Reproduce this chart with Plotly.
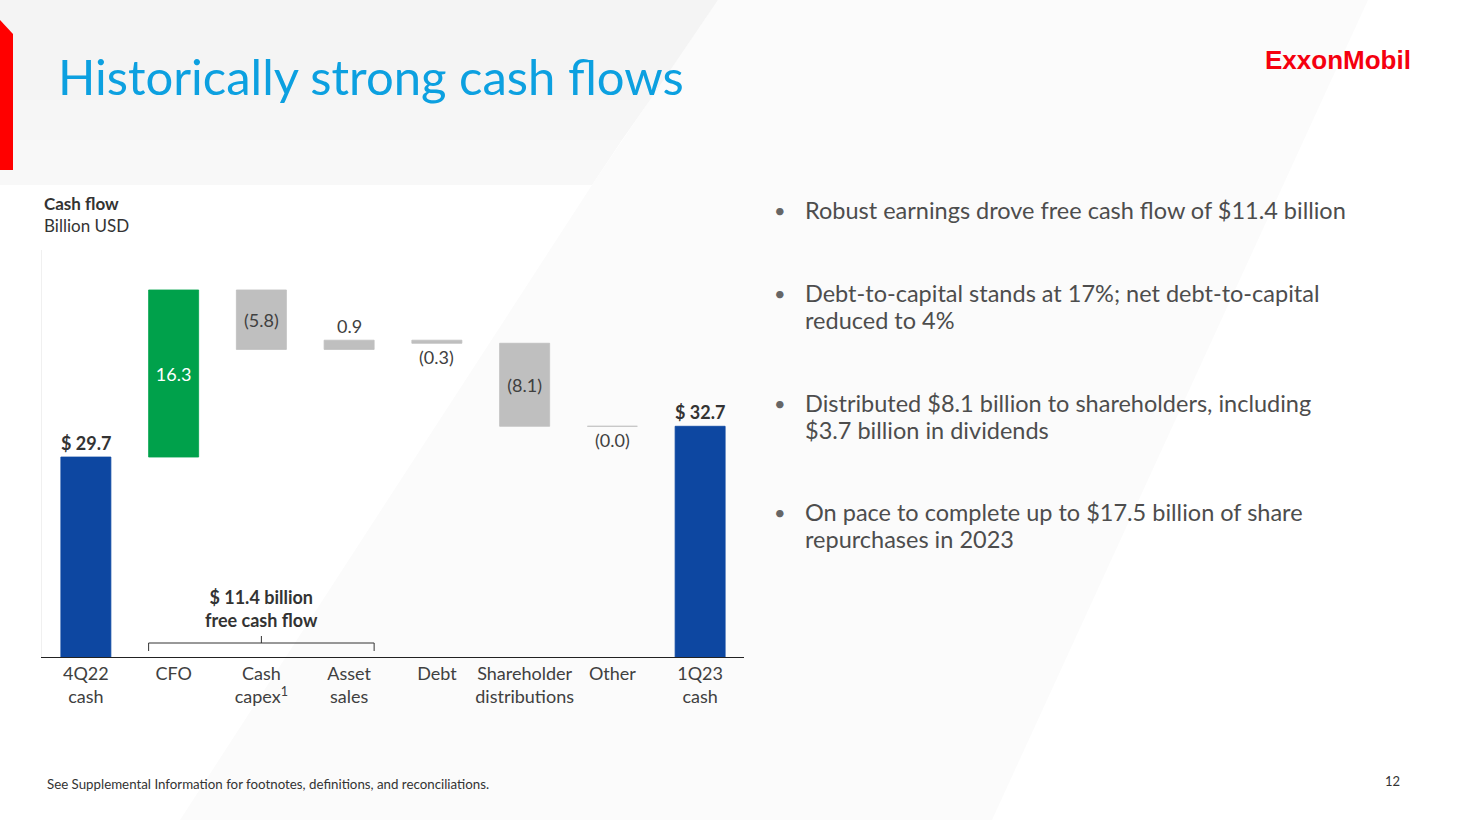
import plotly.graph_objects as go

# ---------------- data ----------------
categories = ["4Q22<br>cash", "CFO", "Cash<br>capex<sup>1</sup>", "Asset<br>sales",
              "Debt", "Shareholder<br>distributions", "Other", "1Q23<br>cash"]
measures = ["total", "relative", "relative", "relative", "relative", "relative", "relative", "total"]
values = [29.7, 16.3, -5.8, 0.9, -0.3, -8.1, -0.0, 32.7]
fcf_members = ["CFO", "Cash<br>capex<sup>1</sup>", "Asset<br>sales"]

bullets = [
    ["Robust earnings drove free cash flow of $11.4 billion"],
    ["Debt-to-capital stands at 17%; net debt-to-capital", "reduced to 4%"],
    ["Distributed $8.1 billion to shareholders, including", "$3.7 billion in dividends"],
    ["On pace to complete up to $17.5 billion of share", "repurchases in 2023"],
]

# ---------------- styles ----------------
W, H = 1457, 820
BLUE = "#0d47a1"
GREEN = "#00a14b"
GRAY = "#bfbfbf"
TXT = "#404040"
FONT = "Lato"
BAR_W = 0.57

def px_x(x):
    return x / W

def px_y(y):
    return 1 - y / H

# waterfall bases computed from data
bases, heights = [], []
running = 0.0
for m, v in zip(measures, values):
    if m == "total":
        bases.append(0.0)
        running = v
    else:
        bases.append(running)
        running += v
    heights.append(v)

colors, bar_text, tcolors = [], [], []
outside_labels = []  # (category index, y value, text, below)
for i, (m, v) in enumerate(zip(measures, values)):
    if m == "total":
        colors.append(BLUE)
        bar_text.append(None)
        tcolors.append("#333333")
        outside_labels.append((i, bases[i] + v, f"<b>$ {v:.1f}</b>", False))
    elif v > 10:
        colors.append(GREEN)
        bar_text.append(f"{v:.1f}")
        tcolors.append("white")
    else:
        colors.append(GRAY)
        lab = f"{v:.1f}" if v > 0 else f"({abs(v):.1f})"
        tcolors.append(TXT)
        if abs(v) > 3:
            bar_text.append(lab)
        else:
            bar_text.append(None)
            outside_labels.append((i, bases[i] + v, lab, v <= 0))

fig = go.Figure()
fig.add_trace(go.Bar(
    x=categories, y=heights, base=bases,
    marker=dict(color=colors, line=dict(color=colors, width=0.8)),
    width=BAR_W,
    text=bar_text, textposition="inside", insidetextanchor="middle",
    insidetextfont=dict(family=FONT, size=18, color=tcolors),
    constraintext="none", cliponaxis=False, hoverinfo="skip",
))

y0 = 10.19
fig.update_layout(
    width=W, height=H,
    margin=dict(l=0, r=0, t=0, b=0),
    paper_bgcolor="white", plot_bgcolor="rgba(0,0,0,0)",
    showlegend=False,
    font=dict(family=FONT, color=TXT),
    xaxis=dict(domain=[px_x(42), px_x(744)], type="category",
               categoryorder="array", categoryarray=categories,
               range=[-0.5, len(categories) - 0.5],
               showline=True, linecolor="#222222", linewidth=1.2,
               ticks="", showgrid=False, zeroline=False,
               tickfont=dict(family=FONT, size=18, color=TXT)),
    yaxis=dict(domain=[px_y(657), px_y(250)], range=[y0, 49.9],
               showline=True, linecolor="#f0f0f0", linewidth=1,
               showticklabels=False, ticks="", showgrid=False, zeroline=False),
)

shapes = []
# background subtle panels
bg = [
    (f"M {px_x(718)} 1 L {px_x(1368)} 1 L {px_x(992)} 0 L {px_x(180)} 0 L {px_x(592)} {px_y(185)} Z", "#fbfbfb"),
    (f"M 0 1 L {px_x(718)} 1 L {px_x(650)} {px_y(100)} L 0 {px_y(100)} Z", "#f4f4f4"),
    (f"M 0 {px_y(100)} L {px_x(650)} {px_y(100)} L {px_x(622)} {px_y(140)} L 0 {px_y(140)} Z", "#f6f6f6"),
    (f"M 0 {px_y(140)} L {px_x(622)} {px_y(140)} L {px_x(592)} {px_y(185)} L 0 {px_y(185)} Z", "#f8f8f8"),
]
for p, c in bg:
    shapes.append(dict(type="path", xref="paper", yref="paper", layer="below",
                       path=p, fillcolor=c, line=dict(width=0)))
# red accent bar
shapes.append(dict(type="path", xref="paper", yref="paper",
                   path=f"M 0 {px_y(20)} L {px_x(13)} {px_y(34)} L {px_x(13)} {px_y(170)} L 0 {px_y(170)} Z",
                   fillcolor="#ff0000", line=dict(width=0)))

# free cash flow bracket spanning the member bars
idx = [categories.index(c) for c in fcf_members]
half = BAR_W / 2
bx0, bx1 = min(idx) - half, max(idx) + half
bmid = (min(idx) + max(idx)) / 2
br = dict(color="#333333", width=1)
shapes += [
    dict(type="line", xref="x", yref="paper", x0=bx0, x1=bx1, y0=px_y(643), y1=px_y(643), line=br),
    dict(type="line", xref="x", yref="paper", x0=bx0, x1=bx0, y0=px_y(643), y1=px_y(651), line=br),
    dict(type="line", xref="x", yref="paper", x0=bx1, x1=bx1, y0=px_y(643), y1=px_y(651), line=br),
    dict(type="line", xref="x", yref="paper", x0=bmid, x1=bmid, y0=px_y(643), y1=px_y(636), line=br),
]
fig.update_layout(shapes=shapes)

ann = []
# outside bar labels, anchored to bar ends
for i, yv, lab, below in outside_labels:
    bold = lab.startswith("<b>")
    ann.append(dict(x=i, xref="x", y=yv, yref="y", xanchor="center",
                    yanchor="top" if below else "bottom", yshift=-1 if below else 1,
                    text=lab, showarrow=False,
                    font=dict(family=FONT, size=18, color="#333333" if bold else TXT)))

fcf = sum(values[i] for i in idx)
ann.append(dict(x=bmid, xref="x", y=px_y(608), yref="paper", xanchor="center", yanchor="middle",
                text=f"<b>$ {fcf:.1f} billion<br>free cash flow</b>", showarrow=False,
                font=dict(family=FONT, size=18, color="#333333")))
# title
ann.append(dict(x=px_x(56), y=px_y(76), xref="paper", yref="paper", xanchor="left", yanchor="middle",
                text="Historically strong cash flows", showarrow=False,
                font=dict(family=FONT, size=49, color="#0ca0e0")))
# logo
ann.append(dict(x=px_x(1413), y=px_y(60), xref="paper", yref="paper", xanchor="right", yanchor="middle",
                text="<b>ExxonMobil</b>", showarrow=False,
                font=dict(family="Liberation Sans", size=26, color="#f5000f")))
# axis title
ann.append(dict(x=px_x(42), y=px_y(214), xref="paper", yref="paper", xanchor="left", yanchor="middle",
                text="<b>Cash flow</b><br>Billion USD", showarrow=False, align="left",
                font=dict(family=FONT, size=17, color="#333333")))
# bullets
bullet_y = [210, 293, 403, 512]
LINE = 26.5
for lines, yy in zip(bullets, bullet_y):
    ann.append(dict(x=px_x(780), y=px_y(yy), xref="paper", yref="paper", xanchor="center", yanchor="middle",
                    text="•", showarrow=False, font=dict(family=FONT, size=20, color="#666666")))
    for k, t in enumerate(lines):
        ann.append(dict(x=px_x(803), y=px_y(yy + k * LINE), xref="paper", yref="paper",
                        xanchor="left", yanchor="middle",
                        text=t, showarrow=False, align="left",
                        font=dict(family=FONT, size=23.5, color="#4d4d4d")))
# footnote and page number
ann.append(dict(x=px_x(45), y=px_y(784), xref="paper", yref="paper", xanchor="left", yanchor="middle",
                text="See Supplemental Information for footnotes, definitions, and reconciliations.",
                showarrow=False, font=dict(family=FONT, size=13.3, color="#333333")))
ann.append(dict(x=px_x(1392), y=px_y(781), xref="paper", yref="paper", xanchor="center", yanchor="middle",
                text="12", showarrow=False, font=dict(family=FONT, size=13, color="#333333")))
fig.update_layout(annotations=ann)

fig.write_html("out.html")
